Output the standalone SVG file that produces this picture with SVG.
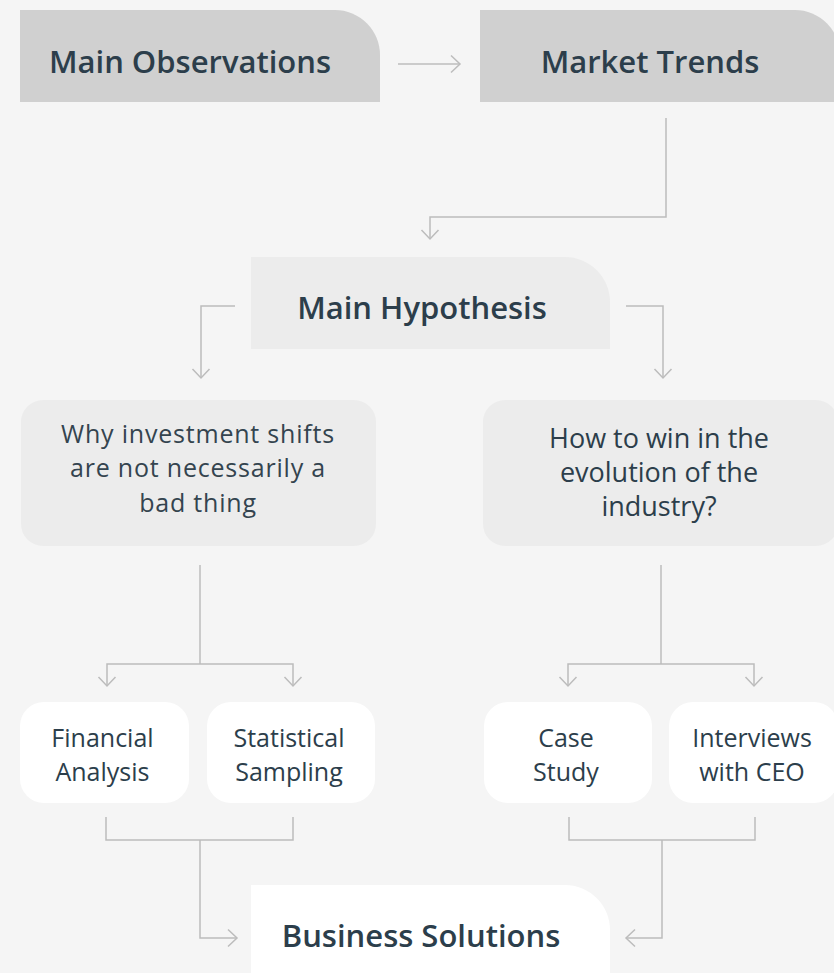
<svg xmlns="http://www.w3.org/2000/svg" width="834" height="973" viewBox="0 0 834 973">
<style>
.bg{fill:#f5f5f5}
.dark{fill:#d0d0d0}
.light{fill:#ececec}
.white{fill:#ffffff}
.head{font-family:"Open Sans","Noto Sans",sans-serif;font-weight:600;font-size:31px;fill:#2c3e4b;text-anchor:middle}
.body{font-family:"Open Sans","Noto Sans",sans-serif;font-weight:400;font-size:27px;fill:#2c3e4b;text-anchor:middle}
.bodyl{font-family:"Open Sans","Noto Sans",sans-serif;font-weight:400;font-size:25px;letter-spacing:0.8px;fill:#34444f;text-anchor:middle}
.small{font-family:"Open Sans","Noto Sans",sans-serif;font-weight:400;font-size:25px;fill:#2c3e4b;text-anchor:middle}
.conn path{fill:none;stroke:#bcbcbc;stroke-width:1.5}
</style>
<defs>
<marker id="arr" viewBox="-11 -10 13 20" markerWidth="13" markerHeight="20" refX="0" refY="0" orient="auto" markerUnits="userSpaceOnUse">
<path d="M-9,-8.5 L0,0 L-9,8.5" fill="none" stroke="#bcbcbc" stroke-width="1.5"/>
</marker>
</defs>
<rect class="bg" x="0" y="0" width="834" height="973"/>

<g id="main-observations">
<path class="dark" d="M20,10 H335 A45,45 0 0 1 380,55 V102 H20 Z"/>
<text class="head" x="190" y="73">Main Observations</text>
</g>
<g id="market-trends">
<path class="dark" d="M480,10 H795 A45,45 0 0 1 840,55 V102 H480 Z"/>
<text class="head" x="650" y="73">Market Trends</text>
</g>
<g id="main-hypothesis">
<path class="light" d="M251,257 H565 A45,45 0 0 1 610,302 V349 H251 Z"/>
<text class="head" x="422" y="319">Main Hypothesis</text>
</g>
<g id="why-investment">
<rect class="light" x="21" y="400" width="355" height="146" rx="22"/>
<text class="bodyl" x="198" y="443">Why investment shifts</text>
<text class="bodyl" x="198" y="477">are not necessarily a</text>
<text class="bodyl" x="198" y="512">bad thing</text>
</g>
<g id="how-to-win">
<rect class="light" x="483" y="400" width="355" height="146" rx="22"/>
<text class="body" x="659" y="448">How to win in the</text>
<text class="body" x="659" y="482">evolution of the</text>
<text class="body" x="659" y="516">industry?</text>
</g>
<g id="financial-analysis">
<rect class="white" x="20" y="702" width="169" height="101" rx="24"/>
<text class="small" x="102.5" y="747">Financial</text>
<text class="small" x="102.5" y="781">Analysis</text>
</g>
<g id="statistical-sampling">
<rect class="white" x="207" y="702" width="168" height="101" rx="24"/>
<text class="small" x="289" y="747">Statistical</text>
<text class="small" x="289" y="781">Sampling</text>
</g>
<g id="case-study">
<rect class="white" x="484" y="702" width="168" height="101" rx="24"/>
<text class="small" x="566" y="747">Case</text>
<text class="small" x="566" y="781">Study</text>
</g>
<g id="interviews-ceo">
<rect class="white" x="669" y="702" width="169" height="101" rx="24"/>
<text class="small" x="752" y="747">Interviews</text>
<text class="small" x="752" y="781">with CEO</text>
</g>
<g id="business-solutions">
<path class="white" d="M251,885 H565 A45,45 0 0 1 610,930 V980 H251 Z"/>
<text class="head" x="421" y="947">Business Solutions</text>
</g>

<g id="connectors" class="conn">
<path d="M398,64 H460" marker-end="url(#arr)"/>
<path d="M666,118 V217 H430 V239" marker-end="url(#arr)"/>
<path d="M235,306 H201 V378" marker-end="url(#arr)"/>
<path d="M626,306 H663 V378" marker-end="url(#arr)"/>
<path d="M200,565 V664"/>
<path d="M200,664 H107 V686" marker-end="url(#arr)"/>
<path d="M200,664 H293 V686" marker-end="url(#arr)"/>
<path d="M661,565 V664"/>
<path d="M661,664 H568 V686" marker-end="url(#arr)"/>
<path d="M661,664 H754 V686" marker-end="url(#arr)"/>
<path d="M106,817 V840 H293 V817"/>
<path d="M200,840 V938 H237" marker-end="url(#arr)"/>
<path d="M569,817 V840 H755 V817"/>
<path d="M662,840 V938 H626" marker-end="url(#arr)"/>
</g>
</svg>
